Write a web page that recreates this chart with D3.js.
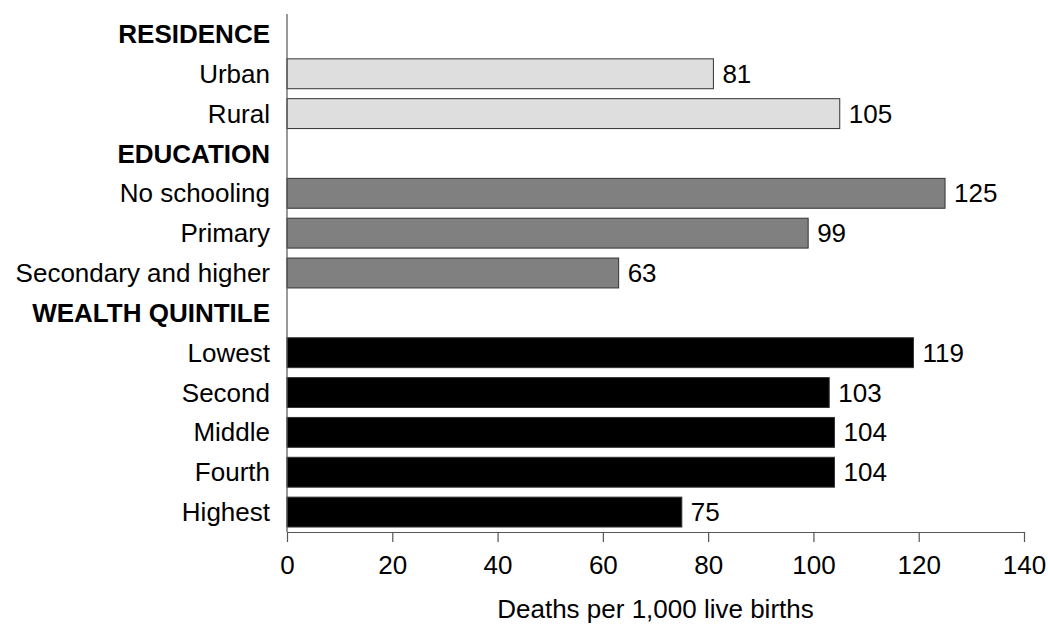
<!DOCTYPE html>
<html><head><meta charset="utf-8">
<script src="https://cdn.jsdelivr.net/npm/d3@7"></script>
<style>body{margin:0;background:#fff}svg{display:block}text{font-family:"Liberation Sans",Arial,sans-serif}</style>
</head><body><svg id="c" width="1048" height="624"></svg>
<script>
const categories = ["RESIDENCE","Urban","Rural","EDUCATION","No schooling","Primary","Secondary and higher","WEALTH QUINTILE","Lowest","Second","Middle","Fourth","Highest"];
const headers = ["RESIDENCE","EDUCATION","WEALTH QUINTILE"];
const values = [null,81,105,null,125,99,63,null,119,103,104,104,75];
const groups = [null,"res","res",null,"edu","edu","edu",null,"wq","wq","wq","wq","wq"];
const xTicks = [0,20,40,60,80,100,120,140];
const xTitle = "Deaths per 1,000 live births";

const colors = {res:"#dedede", edu:"#808080", wq:"#000000"};
const svg = d3.select("#c");
const fs = 26;
const x = d3.scaleLinear().domain([0,140]).range([287,1024]);
const y = d3.scaleBand().domain(categories).range([14,532]).paddingInner(0.25).paddingOuter(0.125);

const data = categories.map((c,i)=>({c, v:values[i], g:groups[i]}));

svg.selectAll("rect.bar").data(data.filter(d=>d.v!=null)).join("rect")
  .attr("class","bar")
  .attr("x", x(0)).attr("y", d=>y(d.c))
  .attr("width", d=>x(d.v)-x(0)).attr("height", y.bandwidth())
  .attr("fill", d=>colors[d.g]).attr("stroke","#333").attr("stroke-width",1);

svg.selectAll("text.val").data(data.filter(d=>d.v!=null)).join("text")
  .attr("class","val")
  .attr("x", d=>x(d.v)+9).attr("y", d=>y(d.c)+y.bandwidth()/2)
  .attr("dy","0.35em").attr("font-size",fs).attr("fill","#000").text(d=>d.v);

svg.selectAll("text.cat").data(data).join("text")
  .attr("class","cat")
  .attr("x", 270).attr("y", d=>y(d.c)+y.bandwidth()/2)
  .attr("dy","0.35em").attr("text-anchor","end").attr("font-size",fs)
  .attr("font-weight", d=>headers.includes(d.c)?"bold":"normal")
  .text(d=>d.c);

// left axis line
svg.append("line").attr("x1",x(0)).attr("x2",x(0)).attr("y1",14).attr("y2",532)
  .attr("stroke","#555").attr("stroke-width",1.2);

const ax = svg.append("g").attr("transform","translate(0,532)")
  .call(d3.axisBottom(x).tickValues(xTicks).tickSize(10).tickSizeOuter(0).tickPadding(14));
ax.select(".domain").attr("stroke","#555").attr("stroke-width",1.2);
ax.selectAll(".tick line").attr("stroke","#555").attr("stroke-width",1.2);
ax.selectAll(".tick text").attr("font-size",fs).attr("fill","#000")
  .attr("font-family","'Liberation Sans',Arial,sans-serif");

svg.append("text").attr("x",(x(0)+x(140))/2).attr("y",618)
  .attr("text-anchor","middle").attr("font-size",fs).text(xTitle);
</script></body></html>
